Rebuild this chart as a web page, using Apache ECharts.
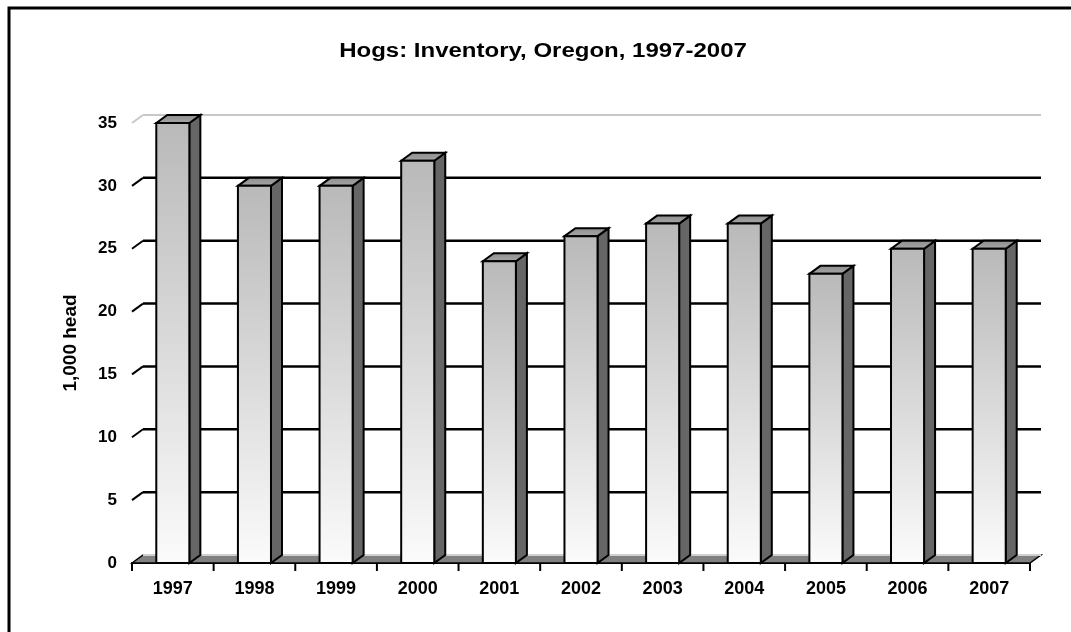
<!DOCTYPE html>
<html>
<head>
<meta charset="utf-8">
<title>Hogs: Inventory, Oregon, 1997-2007</title>
<script src="https://cdn.jsdelivr.net/npm/echarts@6/dist/echarts.min.js"></script>
<style>
  html, body { margin: 0; padding: 0; background: #fff; }
  #chart { width: 1071px; height: 632px; }
</style>
</head>
<body>
<div id="chart"></div>
<script>
  // data
  var years = ['1997', '1998', '1999', '2000', '2001', '2002', '2003', '2004', '2005', '2006', '2007'];
  var inventory = [35, 30, 30, 32, 24, 26, 27, 27, 23, 25, 25];
  var yTicks = [0, 5, 10, 15, 20, 25, 30, 35];

  // 3d depth of the bars and back wall, in px
  var DX = 11, DY = -8;
  var FONT = 'Liberation Sans, Arial, sans-serif';

  var myChart = echarts.init(document.getElementById('chart'));

  // back wall grid lines + left wall diagonals + floor
  function renderWall(params, api) {
    var v = api.value(0);
    var left = api.coord([-0.5, v]);
    var right = api.coord([years.length - 0.5, v]);
    var children = [];
    var edge = (v === yTicks[0] || v === yTicks[yTicks.length - 1]);
    if (v === yTicks[0]) {
      // floor
      children.push({
        type: 'polygon',
        shape: {points: [[left[0], left[1]], [left[0] + DX, left[1] + DY], [right[0] + DX, right[1] + DY], [right[0], right[1]]]},
        style: {fill: '#808080', stroke: '#000', lineWidth: 1.5}
      });
      children.push({
        type: 'line',
        shape: {x1: left[0] + DX, y1: left[1] + DY, x2: right[0] + DX, y2: right[1] + DY},
        style: {stroke: '#d0d0d0', lineWidth: 2}
      });
      return {type: 'group', children: children};
    }
    children.push({
      type: 'line',
      shape: {x1: left[0], y1: left[1], x2: left[0] + DX, y2: left[1] + DY},
      style: {stroke: edge ? '#c8c8c8' : '#000', lineWidth: 2}
    });
    children.push({
      type: 'line',
      shape: {x1: left[0] + DX, y1: left[1] + DY, x2: right[0] + DX, y2: right[1] + DY},
      style: {stroke: edge ? '#c8c8c8' : '#000', lineWidth: edge ? 2 : 2.5}
    });
    return {type: 'group', children: children};
  }

  // one 3d box per year
  function renderBar(params, api) {
    var cat = api.value(0);
    var top = api.coord([cat, api.value(1)]);
    var base = api.coord([cat, 0]);
    var w = api.size([1, 0])[0] * 0.405;
    var x0 = top[0] - w / 2, x1 = top[0] + w / 2;
    var yt = top[1], yb = base[1];
    return {
      type: 'group',
      children: [
        {
          type: 'polygon',
          shape: {points: [[x1, yt], [x1 + DX, yt + DY], [x1 + DX, yb + DY], [x1, yb]]},
          style: {fill: '#666666', stroke: '#000', lineWidth: 2}
        },
        {
          type: 'polygon',
          shape: {points: [[x0, yt], [x0 + DX, yt + DY], [x1 + DX, yt + DY], [x1, yt]]},
          style: {
            fill: new echarts.graphic.LinearGradient(0, 0, 0, 1, [
              {offset: 0, color: '#8c8c8c'},
              {offset: 1, color: '#a8a8a8'}
            ]),
            stroke: '#000', lineWidth: 2
          }
        },
        {
          type: 'rect',
          shape: {x: x0, y: yt, width: w, height: yb - yt},
          style: {
            fill: new echarts.graphic.LinearGradient(0, 0, 0, 1, [
              {offset: 0, color: '#b9b9b9'},
              {offset: 1, color: '#fbfbfb'}
            ]),
            stroke: '#000', lineWidth: 2
          }
        }
      ]
    };
  }

  myChart.setOption({
    backgroundColor: '#fff',
    animation: false,
    graphic: [
      {
        type: 'rect',
        shape: {x: 9, y: 8, width: 1100, height: 700},
        style: {fill: null, stroke: '#000', lineWidth: 3},
        silent: true
      },
      {
        // title, drawn wide like the original
        type: 'text',
        x: 543,
        y: 51,
        scaleX: 1.2,
        style: {
          text: 'Hogs: Inventory, Oregon, 1997-2007',
          fontFamily: FONT, fontWeight: 'bold', fontSize: 20, fill: '#000',
          align: 'center', verticalAlign: 'middle'
        },
        silent: true
      }
    ],
    grid: {left: 132, right: 41, top: 123, bottom: 69, containLabel: false},
    xAxis: {
      type: 'value',
      min: -0.5,
      max: years.length - 0.5,
      interval: 1,
      axisLine: {show: true, onZero: false, lineStyle: {color: '#000', width: 2}},
      axisTick: {show: false},
      axisLabel: {show: false},
      splitLine: {show: false}
    },
    yAxis: {
      type: 'value',
      min: 0,
      max: 35,
      interval: 5,
      name: '1,000 head',
      nameLocation: 'middle',
      nameGap: 52,
      nameRotate: 90,
      nameTextStyle: {fontFamily: FONT, fontWeight: 'bold', fontSize: 19, color: '#000'},
      axisLine: {show: true, lineStyle: {color: '#000', width: 2}},
      axisTick: {show: true, length: 8, lineStyle: {color: '#000', width: 2}},
      axisLabel: {fontFamily: FONT, fontWeight: 'bold', fontSize: 17, color: '#000', margin: 15},
      splitLine: {show: false}
    },
    series: [
      {
        type: 'custom',
        renderItem: renderWall,
        data: yTicks.map(function (t) { return [t]; }),
        encode: {y: 0},
        z: 1,
        silent: true
      },
      {
        type: 'custom',
        renderItem: renderBar,
        data: inventory.map(function (v, i) { return [i, v]; }),
        encode: {x: 0, y: 1},
        z: 3,
        silent: true
      },
      {
        // category ticks and year labels under the floor
        type: 'custom',
        renderItem: function (params, api) {
          var i = api.value(0);
          var p = api.coord([i, 0]);
          var half = api.size([1, 0])[0] / 2;
          var children = [
            {type: 'line', shape: {x1: p[0] + half, y1: p[1], x2: p[0] + half, y2: p[1] + 8}, style: {stroke: '#000', lineWidth: 2}},
            {type: 'text', x: p[0], y: p[1] + 26, style: {text: years[i], fontFamily: FONT, fontWeight: 'bold', fontSize: 18, fill: '#000', align: 'center', verticalAlign: 'middle'}}
          ];
          if (i === 0) {
            children.push({type: 'line', shape: {x1: p[0] - half, y1: p[1], x2: p[0] - half, y2: p[1] + 8}, style: {stroke: '#000', lineWidth: 2}});
          }
          return {type: 'group', children: children};
        },
        data: years.map(function (y, i) { return [i]; }),
        encode: {x: 0},
        z: 4,
        silent: true
      }
    ]
  });
</script>
</body>
</html>
